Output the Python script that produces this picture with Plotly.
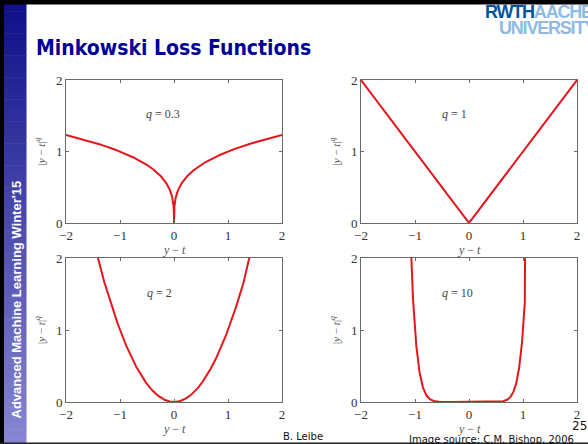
import numpy as np
import plotly.graph_objects as go

# Minkowski exponents, one panel each
q_values = [0.3, 1, 2, 10]
panel_labels = ["q = 0.3", "q = 1", "q = 2", "q = 10"]
x_ticks = [-2, -1, 0, 1, 2]
y_ticks = [0, 1, 2]
x_range = [-2, 2]
y_range = [0, 2]

W, H = 588, 444

# panel boxes in pixels: (left, right, top, bottom)
boxes = [(66, 282, 80, 223), (361, 577, 80, 223),
         (66, 282, 258, 402), (361, 577, 258, 402)]
label_pos = [(-0.2, 1.52), (-0.26, 1.52), (-0.26, 1.52), (-0.22, 1.52)]

# sample grid, dense near zero so the cusp of small q is sharp
u = np.concatenate([np.linspace(0, 0.02, 200), np.linspace(0.02, 2, 800)[1:]])
xs = np.concatenate([-u[::-1], u[1:]])

fig = go.Figure()
serif = "Liberation Serif, Times New Roman, serif"
axis_col = "#6a6a6a"
tick_col = "#333333"

for i, q in enumerate(q_values):
    n = "" if i == 0 else str(i + 1)
    l, r, t, b = boxes[i]
    fig.add_trace(go.Scatter(
        x=xs, y=np.abs(xs) ** q, mode="lines",
        line=dict(color="#e4161c", width=2),
        xaxis="x" + n, yaxis="y" + n, showlegend=False, hoverinfo="skip"))
    common = dict(showgrid=False, zeroline=False, showline=True, linecolor=axis_col,
                  linewidth=1, mirror="ticks", ticks="inside", ticklen=3,
                  tickcolor=axis_col, automargin=False,
                  tickfont=dict(family=serif, size=13, color=tick_col))
    fig.layout["xaxis" + n] = dict(common, domain=[l / W, r / W], range=x_range,
                                   tickvals=x_ticks, anchor="y" + n)
    fig.layout["yaxis" + n] = dict(common, domain=[1 - b / H, 1 - t / H], range=y_range,
                                   tickvals=y_ticks, anchor="x" + n,
                                   title=dict(text="|<i>y</i> − <i>t</i>|<sup><i>q</i></sup>",
                                              font=dict(family=serif, size=11, color="#555"),
                                              standoff=8))
    lx, ly = label_pos[i]
    qtxt = panel_labels[i].replace("q", "<i>q</i>", 1)
    fig.add_annotation(x=lx, y=ly, xref="x" + n, yref="y" + n, text=qtxt,
                       xanchor="center", yanchor="middle",
                       showarrow=False, font=dict(family=serif, size=12, color="#444"))
    # x-axis title
    fig.add_annotation(x=(l + r) / 2 / W, y=1 - (b + 27) / H, xref="paper", yref="paper",
                       xanchor="center", yanchor="middle",
                       text="<i>y</i> − <i>t</i>", showarrow=False,
                       font=dict(family=serif, size=12, color="#555"))

shapes = []
# left sidebar gradient
n_strips = 60
c0 = np.array([0x10, 0x10, 0x8a])
c1 = np.array([0x86, 0x86, 0xd2])
for k in range(n_strips):
    f = k / (n_strips - 1)
    c = (c0 + (c1 - c0) * f).astype(int)
    y0 = 4 + (444 - 4) * k / n_strips
    y1 = 4 + (444 - 4) * (k + 1) / n_strips + 0.5
    shapes.append(dict(type="rect", xref="paper", yref="paper",
                       x0=4 / W, x1=26.5 / W, y0=1 - y1 / H, y1=1 - y0 / H,
                       fillcolor="rgb(%d,%d,%d)" % tuple(c), line=dict(width=0), layer="below"))
# black frame edges
shapes.append(dict(type="rect", xref="paper", yref="paper", x0=0, x1=1, y0=1 - 4.5 / H, y1=1,
                   fillcolor="black", line=dict(width=0)))
shapes.append(dict(type="rect", xref="paper", yref="paper", x0=0, x1=4 / W, y0=0, y1=1,
                   fillcolor="black", line=dict(width=0)))
shapes.append(dict(type="rect", xref="paper", yref="paper", x0=0, x1=1, y0=0, y1=1.5 / H,
                   fillcolor="#222", line=dict(width=0)))

fig.update_layout(shapes=shapes)

sans = "DejaVu Sans, Verdana, sans-serif"
# title
fig.add_annotation(x=34 / W, y=1 - 48 / H, xref="paper", yref="paper", xanchor="left",
                   yanchor="middle", text="Minkowski Loss Functions", showarrow=False,
                   font=dict(family="DejaVu Sans Condensed, DejaVu Sans, sans-serif",
                             size=21, color="#000096", weight="bold"))
# sidebar caption
fig.add_annotation(x=15.5 / W, y=1 - 300 / H, xref="paper", yref="paper", textangle=-90,
                   xanchor="center", yanchor="middle",
                   text="<b>Advanced Machine Learning Winter'15</b>", showarrow=False,
                   font=dict(family="Liberation Sans, Arial, sans-serif", size=13, color="white"))
# logo
logo_font = "Liberation Sans Narrow, Arial Narrow, Liberation Sans, sans-serif"
fig.add_annotation(x=483 / W, y=1 - 12.5 / H, xref="paper", yref="paper", xanchor="left",
                   yanchor="middle", showarrow=False,
                   text="<b><span style='color:#00549f;letter-spacing:-1.2px'>RWTH</span>"
                        "<span style='color:#8ebae5;letter-spacing:-1.2px'>AACHEN</span></b>",
                   font=dict(family=logo_font, size=18))
fig.add_annotation(x=497 / W, y=1 - 28.5 / H, xref="paper", yref="paper", xanchor="left",
                   yanchor="middle", showarrow=False,
                   text="<b><span style='letter-spacing:-1.2px'>UNIVERSITY</span></b>",
                   font=dict(family=logo_font, size=18, color="#8ebae5"))
# footer
fig.add_annotation(x=303 / W, y=1 - 436 / H, xref="paper", yref="paper", showarrow=False,
                   xanchor="center", yanchor="middle",
                   text="B. Leibe", font=dict(family=sans, size=10, color="#111"))
fig.add_annotation(x=579 / W, y=1 - 426 / H, xref="paper", yref="paper", showarrow=False,
                   xanchor="center", yanchor="middle",
                   text="25", font=dict(family=sans, size=12, color="#111"))
fig.add_annotation(x=407 / W, y=1 - 439 / H, xref="paper", yref="paper", xanchor="left",
                   yanchor="middle",
                   showarrow=False, text="<u>Image source: C.M. Bishop, 2006</u>",
                   font=dict(family=sans, size=10, color="#111"))

fig.update_layout(width=W, height=H, margin=dict(l=0, r=0, t=0, b=0),
                  paper_bgcolor="white", plot_bgcolor="white")
fig.write_html("out.html")
